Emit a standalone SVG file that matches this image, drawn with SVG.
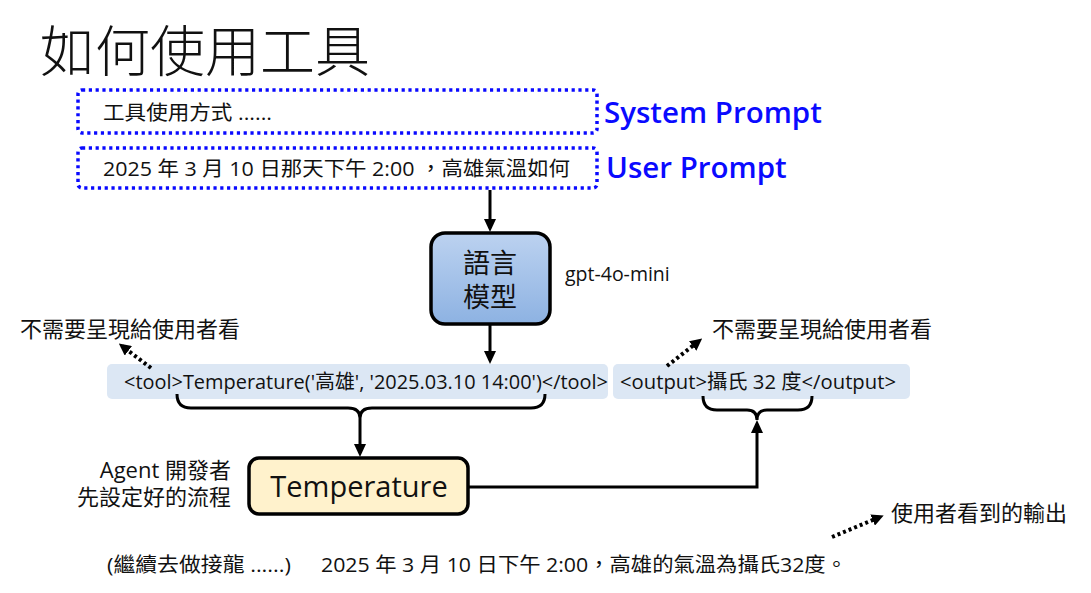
<svg xmlns="http://www.w3.org/2000/svg" width="1091" height="593" viewBox="0 0 1091 593">
<style>
text{font-family:"Open Sans","Noto Sans CJK TC",sans-serif;fill:#111}
.cjk{font-family:"Noto Sans CJK TC",sans-serif}
.dotbox{fill:none;stroke:#0a0aff;stroke-width:3.5;stroke-dasharray:3.2 3.6}
.blue{fill:#0a0aff;font-weight:600;font-size:29.5px}
.code{fill:#dce7f4}
.line{fill:none;stroke:#000;stroke-width:3}
.dot{fill:none;stroke:#000;stroke-width:4;stroke-dasharray:3 3}
.s20{font-size:20px}
.s22{font-size:22px}
</style>
<defs>
<marker id="ah" markerWidth="12" markerHeight="12" refX="8" refY="6" orient="auto" markerUnits="userSpaceOnUse" viewBox="0 0 12 12">
<path d="M0,0 L12,6 L0,12 z" fill="#000"/>
</marker>
<marker id="ah2" markerWidth="14" markerHeight="14" refX="9" refY="7" orient="auto" markerUnits="userSpaceOnUse" viewBox="0 0 14 14">
<path d="M0,1 L13,7 L0,13 z" fill="#000"/>
</marker>
<linearGradient id="lg" x1="0" y1="0" x2="0" y2="1">
<stop offset="0" stop-color="#bcd2f0"/>
<stop offset="1" stop-color="#8db2e2"/>
</linearGradient>
</defs>

<text id="title" x="40" y="71" class="cjk" style="font-size:55px;font-weight:300">如何使用工具</text>

<g id="system-prompt">
<rect class="dotbox" x="78" y="90" width="519" height="43" rx="4"/>
<text x="103" y="120" class="s20" textLength="169" lengthAdjust="spacingAndGlyphs">工具使用方式 ......</text>
<text x="604" y="123" class="blue">System Prompt</text>
</g>

<g id="user-prompt">
<rect class="dotbox" x="78" y="148" width="519" height="40" rx="4"/>
<text x="103" y="176" class="s20" textLength="467" lengthAdjust="spacingAndGlyphs">2025 年 3 月 10 日那天下午 2:00 ，高雄氣溫如何</text>
<text x="606" y="178" class="blue">User Prompt</text>
</g>

<g id="llm">
<rect x="431" y="233" width="119" height="91" rx="14" fill="url(#lg)" stroke="#000" stroke-width="3.5"/>
<text text-anchor="middle" class="cjk" style="font-size:27px"><tspan x="490" y="273">語言</tspan><tspan x="490" y="307">模型</tspan></text>
<text x="565" y="281" style="font-size:19.5px">gpt-4o-mini</text>
</g>

<g id="tool-call">
<rect class="code" x="107" y="364" width="501" height="35" rx="5"/>
<text x="124" y="389" class="s20" textLength="484" lengthAdjust="spacingAndGlyphs">&lt;tool&gt;Temperature('高雄', '2025.03.10 14:00')&lt;/tool&gt;</text>
</g>

<g id="tool-output">
<rect class="code" x="613" y="364" width="297" height="35" rx="5"/>
<text x="620" y="389" class="s20" textLength="276" lengthAdjust="spacingAndGlyphs">&lt;output&gt;攝氏 32 度&lt;/output&gt;</text>
</g>

<g id="note-left">
<text x="20" y="337" class="s22">不需要呈現給使用者看</text>
</g>
<g id="note-right">
<text x="712" y="337" class="s22">不需要呈現給使用者看</text>
</g>

<g id="temperature">
<rect x="249" y="458" width="219" height="56" rx="10" fill="#fff2cc" stroke="#000" stroke-width="3.5"/>
<text x="359" y="497" text-anchor="middle" style="font-size:29px">Temperature</text>
</g>

<g id="agent-note">
<text x="231" y="478" text-anchor="end" class="s22">Agent 開發者</text>
<text x="231" y="505" text-anchor="end" class="s22">先設定好的流程</text>
</g>

<g id="user-output-note">
<text x="891" y="521" class="s22">使用者看到的輸出</text>
</g>

<g id="final-output">
<text x="107" y="572" class="s20" textLength="184" lengthAdjust="spacingAndGlyphs">(繼續去做接龍 ......)</text>
<text x="321" y="572" class="s20" textLength="526" lengthAdjust="spacingAndGlyphs">2025 年 3 月 10 日下午 2:00，高雄的氣溫為攝氏32度。</text>
</g>

<g id="connectors">
<line class="line" x1="490" y1="190" x2="490" y2="228" marker-end="url(#ah2)"/>
<line class="line" x1="490" y1="325" x2="490" y2="360" marker-end="url(#ah2)"/>
<path class="line" d="M177,394 Q177,408 191,408 L348,408 Q360,408 360,418 Q360,408 372,408 L531,408 Q545,408 545,394"/>
<line class="line" x1="360" y1="418" x2="360" y2="453" marker-end="url(#ah2)"/>
<path class="line" d="M703,396 Q703,410 717,410 L747,410 Q757,410 757,420 Q757,410 767,410 L798,410 Q812,410 812,396"/>
<path class="line" d="M469,487 L757,487 L757,424" marker-end="url(#ah2)"/>
<line class="dot" x1="151" y1="368" x2="122" y2="346" marker-end="url(#ah)"/>
<line class="dot" x1="667" y1="366" x2="699" y2="341" marker-end="url(#ah)"/>
<line class="dot" x1="832" y1="537" x2="880" y2="517" marker-end="url(#ah)"/>
</g>
</svg>
